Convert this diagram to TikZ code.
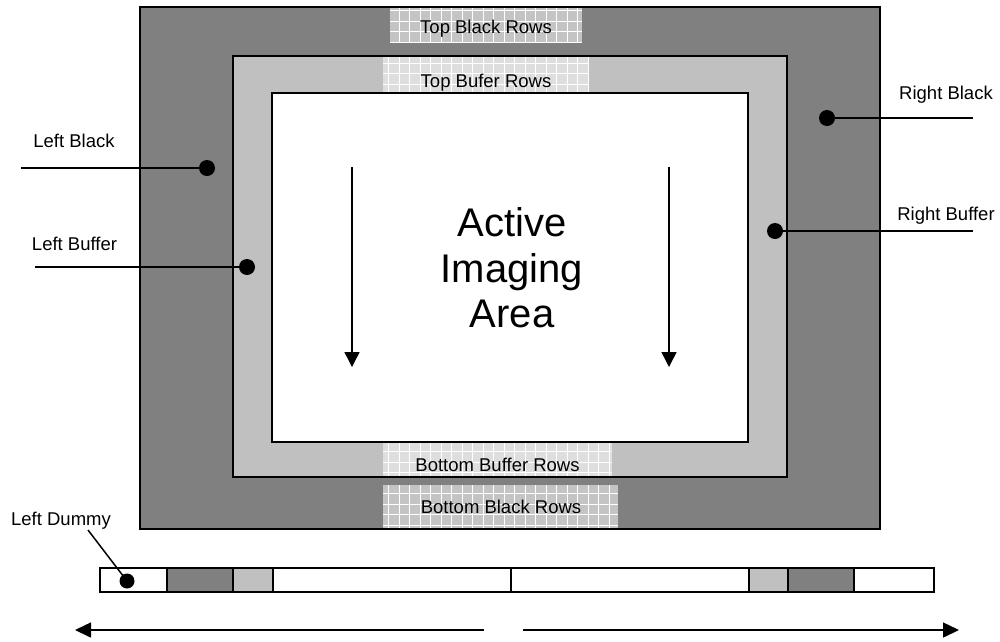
\documentclass[tikz,border=0pt]{standalone}
\usepackage{fontspec}
\setmainfont{Liberation Sans}
\usetikzlibrary{arrows.meta}
\definecolor{dark}{HTML}{808080}
\definecolor{light}{HTML}{C0C0C0}
\definecolor{patA}{HTML}{C4C4C4}
\definecolor{patB}{HTML}{DEDEDE}
\begin{document}
\begin{tikzpicture}[x=1pt,y=-1pt,
  lbl/.style={font=\fontsize{18.5}{22}\selectfont, anchor=base, inner sep=0},
  dotn/.style={circle, fill=black, minimum size=16pt, inner sep=0},
  lead/.style={line width=1.5pt},
  border/.style={line width=2pt},
  arr/.style={line width=1.5pt, -{Triangle[length=15pt,width=15pt]}},
  gridln/.style={white, line width=0.7pt, xstep=10.5pt, ystep=10.5pt},
  seg/.style={draw=black, line width=1.6pt}]
\useasboundingbox (0,0) rectangle (1000,641);
\fill[white] (0,0) rectangle (1000,641);
% main frames
\fill[dark] (140,7) rectangle (880,529);
\fill[light] (233,56) rectangle (787,477);
\fill[white] (272,93) rectangle (748,442);
% patterned row patches
\fill[patA] (390,8) rectangle (582,43);
\draw[gridln] (390,8) grid (582,43);
\fill[patB] (383,57) rectangle (588,92);
\draw[gridln] (383,57) grid (588,92);
\fill[patB] (383,443) rectangle (612,476);
\draw[gridln] (383,443) grid (612,476);
\fill[patA] (383,485) rectangle (618,528);
\draw[gridln] (383,485) grid (618,528);
% borders
\draw[border] (140,7) rectangle (880,529);
\draw[border] (233,56) rectangle (787,477);
\draw[border] (272,93) rectangle (748,442);
% patch labels
\node[lbl] (tbr) at (486,33) {Top Black Rows};
\node[lbl] (tbu) at (486,87) {Top Bufer Rows};
\node[lbl] (bbu) at (497.5,471) {Bottom Buffer Rows};
\node[lbl] (bbl) at (501,513) {Bottom Black Rows};
% side labels
\node[lbl] (lb) at (74,147) {Left Black};
\node[lbl] (lbf) at (74.5,250) {Left Buffer};
\node[lbl] (rb) at (946,99) {Right Black};
\node[lbl] (rbf) at (946,220) {Right Buffer};
\node[lbl] (ld) at (61,525) {Left Dummy};
% leader lines and dots
\coordinate (elb) at (21,168);
\coordinate (elbf) at (35,267);
\coordinate (erb) at (973,118);
\coordinate (erbf) at (973,231);
\coordinate (eld) at (88,530);
\node[dotn] (dlb) at (207,168) {};
\node[dotn] (dlbf) at (247,267) {};
\node[dotn] (drb) at (827,118) {};
\node[dotn] (drbf) at (775,231) {};
\draw[lead] (elb) -- (dlb.center);
\draw[lead] (elbf) -- (dlbf.center);
\draw[lead] (erb) -- (drb.center);
\draw[lead] (erbf) -- (drbf.center);
% active area
\node[font=\fontsize{40}{45.5}\selectfont, align=center, inner sep=0] (act) at (512,268) {Active\\Imaging\\Area};
\coordinate (a1s) at (352,167);
\coordinate (a1e) at (352,367);
\coordinate (a2s) at (669,167);
\coordinate (a2e) at (669,367);
\draw[arr] (a1s) -- (a1e);
\draw[arr] (a2s) -- (a2e);
% bottom readout bar
\draw[seg, fill=white] (100,568) rectangle (167,592);
\draw[seg, fill=dark] (167,568) rectangle (233,592);
\draw[seg, fill=light] (233,568) rectangle (273,592);
\draw[seg, fill=white] (273,568) rectangle (511,592);
\draw[seg, fill=white] (511,568) rectangle (749,592);
\draw[seg, fill=light] (749,568) rectangle (788,592);
\draw[seg, fill=dark] (788,568) rectangle (854,592);
\draw[seg, fill=white] (854,568) rectangle (934,592);
\node[dotn, minimum size=15pt] (dld) at (127,581) {};
\draw[lead] (eld) -- (dld.center);
% bottom arrows
\coordinate (b1s) at (484,630);
\coordinate (b1e) at (75,630);
\coordinate (b2s) at (523,630);
\coordinate (b2e) at (959,630);
\draw[arr, -{Triangle[length=16pt,width=15pt]}] (b1s) -- (b1e);
\draw[arr, -{Triangle[length=16pt,width=15pt]}] (b2s) -- (b2e);
\end{tikzpicture}
\end{document}
